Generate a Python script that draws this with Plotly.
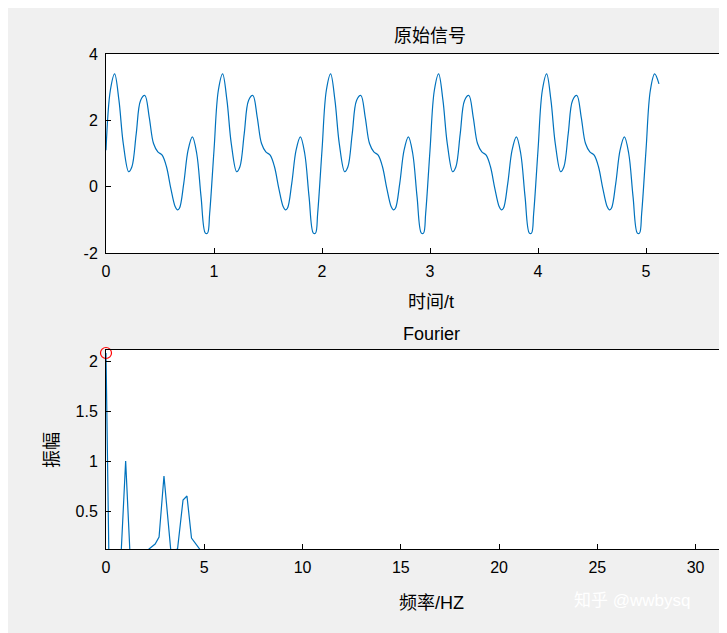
import plotly.graph_objects as go

# one period of the original signal (period = 1 s)
period_t = [0, 0.04, 0.08, 0.12, 0.16, 0.21, 0.24, 0.28, 0.32, 0.36, 0.40, 0.44, 0.48, 0.52,
            0.56, 0.60, 0.64, 0.66, 0.68, 0.72, 0.76, 0.80, 0.84, 0.88, 0.92, 0.94, 0.96]
period_v = [1.1, 2.9, 3.4, 2.6, 1.3, 0.45, 0.6, 1.6, 2.6, 2.75, 2.1, 1.3, 1.05, 0.95,
            0.6, -0.05, -0.6, -0.7, -0.65, 0.1, 1.1, 1.5, 1.0, -0.3, -1.4, -1.4, -0.8]
n_periods = 5
t_end = 5.12
t_end_value = 3.1

sig_t, sig_v = [], []
for k in range(n_periods + 1):
    for tt, vv in zip(period_t, period_v):
        if k + tt <= 5.09:
            sig_t.append(k + tt)
            sig_v.append(vv)
sig_t.append(t_end)
sig_v.append(t_end_value)

# spectrum
freq = [0, 0.15, 0.6, 0.78, 1.0, 1.21, 1.6, 2.19, 2.5, 2.7, 2.95, 3.3, 3.64, 3.92, 4.12, 4.35, 4.8, 5.0, 31.6]
amp = [2.08, 0.0, 0.0, 0.12, 1.0, 0.12, 0.0, 0.12, 0.17, 0.24, 0.85, 0.1, 0.12, 0.61, 0.65, 0.23, 0.11, 0.05, 0.0]

y1_ticks = [-2, 0, 2, 4]
y1_text = ["-2", "0", "2", "4"]

blue = "#0072bd"
OFF = 8  # page body margin
L, T, B_PIX, R_PIX = 106, 54, 549, 727
W, H = 727, 633

fig = go.Figure()
fig.add_trace(go.Scatter(x=sig_t, y=sig_v, mode="lines", line=dict(color=blue, width=1.2, shape="spline"),
                         xaxis="x", yaxis="y", showlegend=False))
fig.add_trace(go.Scatter(x=freq, y=amp, mode="lines", line=dict(color=blue, width=1.2),
                         xaxis="x2", yaxis="y2", showlegend=False))
fig.add_trace(go.Scatter(x=[freq[0]], y=[amp[0]], mode="markers",
                         marker=dict(symbol="circle-open", color="red", size=11, line=dict(width=1.2)),
                         cliponaxis=False, xaxis="x2", yaxis="y2", showlegend=False))

ax = dict(showline=True, linecolor="black", linewidth=1, mirror=True, ticks="inside", ticklen=5,
          tickcolor="black", showgrid=False, zeroline=False, tickfont=dict(size=16, color="black"),
          ticklabelstandoff=4)
pw, ph = R_PIX - L, B_PIX - T


def px(x, y):
    return (x - L) / pw, (B_PIX - y) / ph


labels = [("原始信号", 430, 36, 0, 18, "black"), ("Fourier", 431, 334, 0, 18, "black"),
          ("时间/t", 431, 302, 0, 18, "black"), ("频率/HZ", 431, 603, 0, 18, "black"),
          ("振幅", 52, 450, -90, 18, "black"), ("知乎 @wwbysq", 632, 600, 0, 17, "white")]
annotations = []
for txt, x, y, ang, sz, col in labels:
    ax_, ay_ = px(x, y)
    annotations.append(dict(text=txt, x=ax_, y=ay_, xref="paper", yref="paper", showarrow=False,
                            xanchor="center", yanchor="middle", textangle=ang,
                            font=dict(size=sz, color=col)))

fig.update_layout(
    width=W, height=H, paper_bgcolor="#f0f0f0", plot_bgcolor="white",
    margin=dict(l=L - OFF, r=W + OFF - R_PIX, t=T - OFF, b=H - (B_PIX - OFF)),
    font=dict(family="Liberation Sans, Noto Sans CJK SC", color="black"),
    xaxis=dict(ax, domain=[0, 1], anchor="y", range=[0, 5.75], tickvals=[0, 1, 2, 3, 4, 5]),
    yaxis=dict(ax, domain=[(B_PIX - 253) / ph, 1], anchor="x", range=[-2, 4],
               tickvals=y1_ticks, ticktext=y1_text),
    xaxis2=dict(ax, domain=[0, 1], anchor="y2", range=[0, 31.6], tickvals=[0, 5, 10, 15, 20, 25, 30]),
    yaxis2=dict(ax, domain=[0, (B_PIX - 350) / ph], anchor="x2", range=[0.12, 2.11], tickvals=[0.5, 1, 1.5, 2]),
    annotations=annotations,
)
fig.write_html("out.html")
